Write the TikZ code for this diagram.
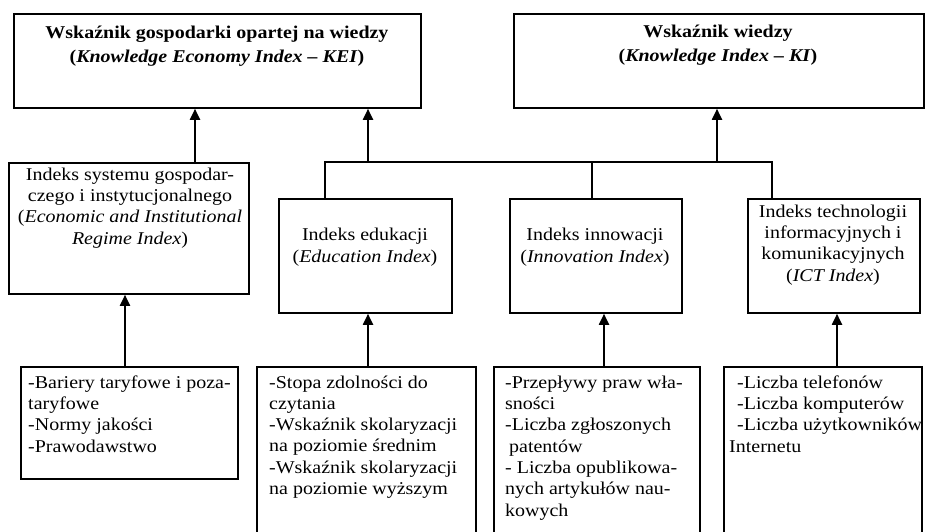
\documentclass[tikz,border=0pt]{standalone}
\usepackage{fontspec}
\setmainfont{Liberation Serif}[FakeStretch=1.11]
\usetikzlibrary{arrows.meta}
\begin{document}
\begin{tikzpicture}[x=1pt,y=-1pt,
  box/.style={draw, line width=1.8pt, inner sep=0pt, anchor=north west},
  conn/.style={line width=1.9pt},
  arr/.style={conn, -{Triangle[length=11pt,width=10pt]}},
  txt/.style={inner sep=0pt, font=\fontsize{18}{21.3}\selectfont},
  ttxt/.style={inner sep=0pt, font=\fontsize{18}{23.5}\selectfont\bfseries, align=center, anchor=base},
  ctxt/.style={txt, align=center, anchor=base},
  ltxt/.style={txt, align=left, anchor=base west}]
\useasboundingbox (0,0) rectangle (931,531);
\fill[white] (0,0) rectangle (931,531);
\clip (0,0) rectangle (931,531);
% top boxes
\node[box, minimum width=407pt, minimum height=94pt] (kei) at (13,13) {};
\node[box, minimum width=410pt, minimum height=94pt] (ki) at (513,13) {};
% middle boxes
\node[box, minimum width=240pt, minimum height=131pt] (eir) at (8,162) {};
\node[box, minimum width=173pt, minimum height=114pt] (edu) at (278,198) {};
\node[box, minimum width=172pt, minimum height=114pt] (inn) at (509,198) {};
\node[box, minimum width=172pt, minimum height=114pt] (ict) at (747,198) {};
% bottom boxes
\node[box, minimum width=217pt, minimum height=112pt] (b1) at (20,366) {};
\node[box, minimum width=219pt, minimum height=200pt] (b2) at (256,366) {};
\node[box, minimum width=206pt, minimum height=200pt] (b3) at (493,366) {};
\node[box, minimum width=198pt, minimum height=200pt] (b4) at (723,366) {};
% texts (base anchor = baseline of the last line)
\node[ttxt] (keit) at (217,62) {Wskaźnik gospodarki opartej na wiedzy\\(\textit{Knowledge Economy Index – KEI})};
\node[ttxt] (kit) at (718,61) {Wskaźnik wiedzy\\(\textit{Knowledge Index – KI})};
\node[ctxt] (eirt) at (130,244) {Indeks systemu gospodar-\\czego i instytucjonalnego\\(\textit{Economic and Institutional}\\\textit{Regime Index})};
\node[ctxt] (edut) at (365,262) {Indeks edukacji\\(\textit{Education Index})};
\node[ctxt] (innt) at (595,262) {Indeks innowacji\\(\textit{Innovation Index})};
\node[ctxt] (ictt) at (833,281) {Indeks technologii\\informacyjnych i\\komunikacyjnych\\(\textit{ICT Index})};
\node[ltxt] (b1t) at (28,452) {-Bariery taryfowe i poza-\\taryfowe\\-Normy jakości\\-Prawodawstwo};
\node[ltxt] (b2t) at (269,494.5) {-Stopa zdolności do\\czytania\\-Wskaźnik skolaryzacji\\na poziomie średnim\\-Wskaźnik skolaryzacji\\na poziomie wyższym};
\node[ltxt] (b3t) at (505,516) {-Przepływy praw wła-\\sności\\-Liczba zgłoszonych\\\hspace*{4pt}patentów\\- Liczba opublikowa-\\nych artykułów nau-\\kowych};
\node[ltxt] (b4t) at (737,452) {-Liczba telefonów\\-Liczba komputerów\\-Liczba użytkowników\\\hspace*{-8pt}Internetu};
% connectors
\coordinate (a1) at (195,0);
\coordinate (j1) at (325,162);
\coordinate (j2) at (772,162);
\coordinate (j3) at (592,162);
\coordinate (j4) at (368,162);
\coordinate (j5) at (717,162);
\draw[arr] (eir.north -| a1) -- (kei.south -| a1);
\draw[conn] (edu.north -| j1) -- (j1) -- (j2) -- (ict.north -| j2);
\draw[conn] (j3) -- (inn.north -| j3);
\draw[arr] (j4) -- (kei.south -| j4);
\draw[arr] (j5) -- (ki.south -| j5);
\coordinate (c1) at (125,0);
\coordinate (c2) at (368,0);
\coordinate (c3) at (604,0);
\coordinate (c4) at (837,0);
\draw[arr] (b1.north -| c1) -- (eir.south -| c1);
\draw[arr] (b2.north -| c2) -- (edu.south -| c2);
\draw[arr] (b3.north -| c3) -- (inn.south -| c3);
\draw[arr] (b4.north -| c4) -- (ict.south -| c4);
\end{tikzpicture}
\end{document}
